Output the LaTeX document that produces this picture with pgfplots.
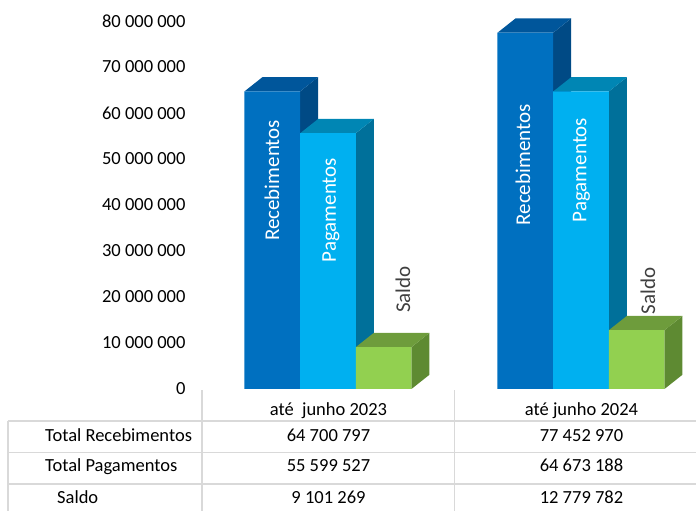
\documentclass[border=0pt]{standalone}
\usepackage{fontspec}
\setmainfont{Carlito}
\usepackage{pgfplots}
\pgfplotsset{compat=1.18}
\definecolor{recF}{HTML}{0070C0}
\definecolor{recT}{HTML}{00569B}
\definecolor{recS}{HTML}{004A85}
\definecolor{pagF}{HTML}{00B0F0}
\definecolor{pagT}{HTML}{0086B4}
\definecolor{pagS}{HTML}{00709A}
\definecolor{salF}{HTML}{92D050}
\definecolor{salT}{HTML}{6E9C3C}
\definecolor{salS}{HTML}{5E8A32}
\definecolor{tgray}{HTML}{D9D9D9}
\newcommand{\tf}{\fontsize{18.5}{22}\selectfont}
\tikzset{
  table label/.style={font=\tf, inner sep=0pt, text height=0.63em, text depth=0pt},
  bar label/.style={font=\fontsize{21}{24}\selectfont, rotate=90, inner sep=0pt},
}
\begin{document}
\begin{tikzpicture}
\begin{axis}[
  scale only axis, width=494pt, height=368pt,
  xmin=-0.5, xmax=1.4526, ymin=0, ymax=80000000,
  clip=false,
  axis line style={draw=none},
  xtick=\empty,
  ytick distance=10000000,
  major tick length=0pt,
  scaled y ticks=false,
  /pgf/number format/fixed,
  /pgf/number format/precision=0,
  /pgf/number format/1000 sep={\ },
  /pgf/number format/assume math mode=true,
  yticklabel style={font=\tf, text=black, xshift=-13pt},
]
% ---- Recebimentos ----
\addplot[fill=recS, draw=none] coordinates {(-0.112,0) (-0.0409,3100000) (-0.0409,67800797) (-0.112,64700797)} --cycle;
\addplot[fill=recT, draw=none] coordinates {(-0.332,64700797) (-0.2609,67800797) (-0.0409,67800797) (-0.112,64700797)} --cycle;
\addplot[fill=recS, draw=none] coordinates {(0.888,0) (0.9591,3100000) (0.9591,80552970) (0.888,77452970)} --cycle;
\addplot[fill=recT, draw=none] coordinates {(0.668,77452970) (0.7391,80552970) (0.9591,80552970) (0.888,77452970)} --cycle;
\addplot[ybar, bar width=0.22, bar shift=-0.222, fill=recF, draw=none] coordinates {(0,64700797) (1,77452970)};
% ---- Pagamentos ----
\addplot[fill=pagS, draw=none] coordinates {(0.108,0) (0.1791,3100000) (0.1791,58699527) (0.108,55599527)} --cycle;
\addplot[fill=pagT, draw=none] coordinates {(-0.112,55599527) (-0.0409,58699527) (0.1791,58699527) (0.108,55599527)} --cycle;
\addplot[fill=pagS, draw=none] coordinates {(1.108,0) (1.1791,3100000) (1.1791,67773188) (1.108,64673188)} --cycle;
\addplot[fill=pagT, draw=none] coordinates {(0.888,64673188) (0.9591,67773188) (1.1791,67773188) (1.108,64673188)} --cycle;
\addplot[ybar, bar width=0.22, bar shift=-0.002, fill=pagF, draw=none] coordinates {(0,55599527) (1,64673188)};
% ---- Saldo ----
\addplot[fill=salS, draw=none] coordinates {(0.328,0) (0.3991,3100000) (0.3991,12201269) (0.328,9101269)} --cycle;
\addplot[fill=salT, draw=none] coordinates {(0.108,9101269) (0.1791,12201269) (0.3991,12201269) (0.328,9101269)} --cycle;
\addplot[fill=salS, draw=none] coordinates {(1.328,0) (1.3991,3100000) (1.3991,15879782) (1.328,12779782)} --cycle;
\addplot[fill=salT, draw=none] coordinates {(1.108,12779782) (1.1791,15879782) (1.3991,15879782) (1.328,12779782)} --cycle;
\addplot[ybar, bar width=0.22, bar shift=0.218, fill=salF, draw=none] coordinates {(0,9101269) (1,12779782)};
% ---- bar labels ----
\node[bar label, text=white] at (axis cs:-0.2233,45330000) {Recebimentos};
\node[bar label, text=white] at (axis cs:0.0099,38910000) {Pagamentos};
\node[bar label, text=black!75] at (axis cs:0.2945,21630000) {Saldo};
\node[bar label, text=white] at (axis cs:0.7688,48700000) {Recebimentos};
\node[bar label, text=white] at (axis cs:1.0,47610000) {Pagamentos};
\node[bar label, text=black!75] at (axis cs:1.2628,21300000) {Saldo};
% ---- data table ----
\draw[tgray, line width=1.5pt] (axis cs:-1.2668,-6957000) -- (axis cs:1.4526,-6957000);
\draw[tgray, line width=1.5pt] (axis cs:-1.2668,-13800000) -- (axis cs:1.4526,-13800000);
\draw[tgray, line width=1.5pt] (axis cs:-1.2668,-20650000) -- (axis cs:1.4526,-20650000);
\draw[tgray, line width=1.5pt] (axis cs:-1.2668,-6957000) -- (axis cs:-1.2668,-26520000);
\draw[tgray, line width=1.5pt] (axis cs:-0.5,-220000) -- (axis cs:-0.5,-26520000);
\draw[tgray, line width=1.5pt] (axis cs:0.498,-220000) -- (axis cs:0.498,-26520000);
\node[table label] at (axis cs:0,-5000000) {até\ \ junho 2023};
\node[table label] at (axis cs:1,-5000000) {até junho 2024};
\node[table label, anchor=west] at (axis cs:-1.1206,-10652000) {Total Recebimentos};
\node[table label, anchor=west] at (axis cs:-1.1206,-17174000) {Total Pagamentos};
\node[table label, anchor=west] at (axis cs:-1.0731,-24130000) {Saldo};
\node[table label] at (axis cs:0,-10652000) {64 700 797};
\node[table label] at (axis cs:1,-10652000) {77 452 970};
\node[table label] at (axis cs:0,-17174000) {55 599 527};
\node[table label] at (axis cs:1,-17174000) {64 673 188};
\node[table label] at (axis cs:0,-24130000) {9 101 269};
\node[table label] at (axis cs:1,-24130000) {12 779 782};
\coordinate (bbl) at (axis cs:-1.2984,-26520000);
\coordinate (btr) at (axis cs:1.4526,84565000);
\end{axis}
\pgfresetboundingbox
\useasboundingbox (bbl) rectangle (btr);
\end{tikzpicture}
\end{document}
